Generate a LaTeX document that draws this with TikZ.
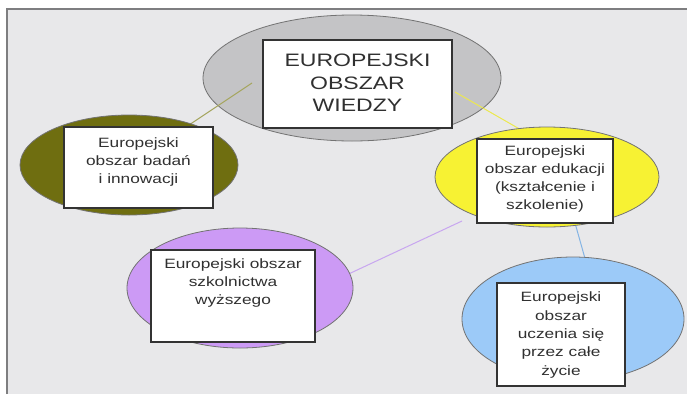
\documentclass[tikz,border=0pt]{standalone}
\usepackage{fontspec}
\newfontfamily\wf[FakeStretch=1.28]{Liberation Sans}
\usetikzlibrary{shapes.geometric}
\pgfdeclarelayer{bg}
\pgfdeclarelayer{mid}
\pgfsetlayers{bg,mid,main}
\definecolor{bgc}{HTML}{E8E8EA}
\definecolor{framec}{HTML}{7E7E80}
\definecolor{grayE}{HTML}{C4C4C6}
\definecolor{oliveE}{HTML}{6F6E10}
\definecolor{yellowE}{HTML}{F7F233}
\definecolor{purpleE}{HTML}{CC9AF5}
\definecolor{blueE}{HTML}{9CCAF8}
\definecolor{oliveL}{HTML}{A6A660}
\definecolor{yellowL}{HTML}{ECE850}
\definecolor{purpleL}{HTML}{C8A6F0}
\definecolor{blueL}{HTML}{84B4E4}
\definecolor{txtc}{HTML}{303030}
\begin{document}
\begin{tikzpicture}[x=1pt,y=-1pt,
  ell/.style={ellipse, draw=black!55, line width=0.8pt, inner sep=0pt},
  tbox/.style={rectangle, draw=black!80, line width=1.8pt, fill=white, inner sep=0pt},
  smalltxt/.style={align=center, text=txtc, inner sep=0pt, font=\wf\fontsize{13.5}{18.3}\selectfont},
  bigtxt/.style={align=center, text=txtc, inner sep=0pt, font=\wf\fontsize{18}{22.5}\selectfont},
  conn/.style={line width=1pt}]
\useasboundingbox (0,0) rectangle (687,394);

% background and gray ellipse on bottom layer
\begin{pgfonlayer}{bg}
\fill[white] (0,0) rectangle (687,394);
\fill[bgc] (7,9) rectangle (687,394);
\draw[framec, line width=2pt] (6.5,394) -- (6.5,8.5) -- (687,8.5);
\node[ell, fill=grayE, minimum width=298pt, minimum height=126pt] (gE) at (352,78) {};
\end{pgfonlayer}

% other ellipses
\node[ell, fill=oliveE, minimum width=218pt, minimum height=100pt] (oE) at (129,165) {};
\node[ell, fill=yellowE, minimum width=224pt, minimum height=100pt] (yE) at (547,177) {};
\node[ell, fill=purpleE, minimum width=226pt, minimum height=120pt] (pE) at (240,288) {};
\node[ell, fill=blueE, minimum width=222pt, minimum height=124pt] (bE) at (573,319) {};

% boxes
\node[tbox, minimum width=189pt, minimum height=88pt] (gB) at (357.5,84) {};
\node[tbox, minimum width=149pt, minimum height=81pt] (oB) at (138.5,167.5) {};
\node[tbox, minimum width=136pt, minimum height=84pt] (yB) at (545,181) {};
\node[tbox, minimum width=164pt, minimum height=92pt] (pB) at (233,296) {};
\node[tbox, minimum width=128pt, minimum height=103pt] (bB) at (561,334.5) {};

% texts
\node[bigtxt] (gT) at (357.5,83) {EUROPEJSKI\\OBSZAR\\WIEDZY};
\node[smalltxt] (oT) at (138.5,162) {Europejski\\obszar badań\\i innowacji};
\node[smalltxt] (yT) at (545,179) {Europejski\\obszar edukacji\\(kształcenie i\\szkolenie)};
\node[smalltxt] (pT) at (233,283) {Europejski obszar\\szkolnictwa\\wyższego};
\node[smalltxt] (bT) at (561,335) {Europejski\\obszar\\uczenia się\\przez całe\\życie};

% connector ends
\coordinate (c1) at (252,83);
\coordinate (c2) at (455,92);
\coordinate (c3) at (530,135);
\coordinate (c4) at (340,278);
\coordinate (c5) at (462,221);
\coordinate (c6) at (575,223);
\coordinate (c7) at (586,262);

\begin{pgfonlayer}{mid}
\draw[conn, oliveL] (oE.center) -- (c1);
\draw[conn, yellowL] (c2) -- (c3);
\draw[conn, purpleL] (c4) -- (c5);
\draw[conn, blueL] (c6) -- (c7);
\end{pgfonlayer}
\end{tikzpicture}
\end{document}
